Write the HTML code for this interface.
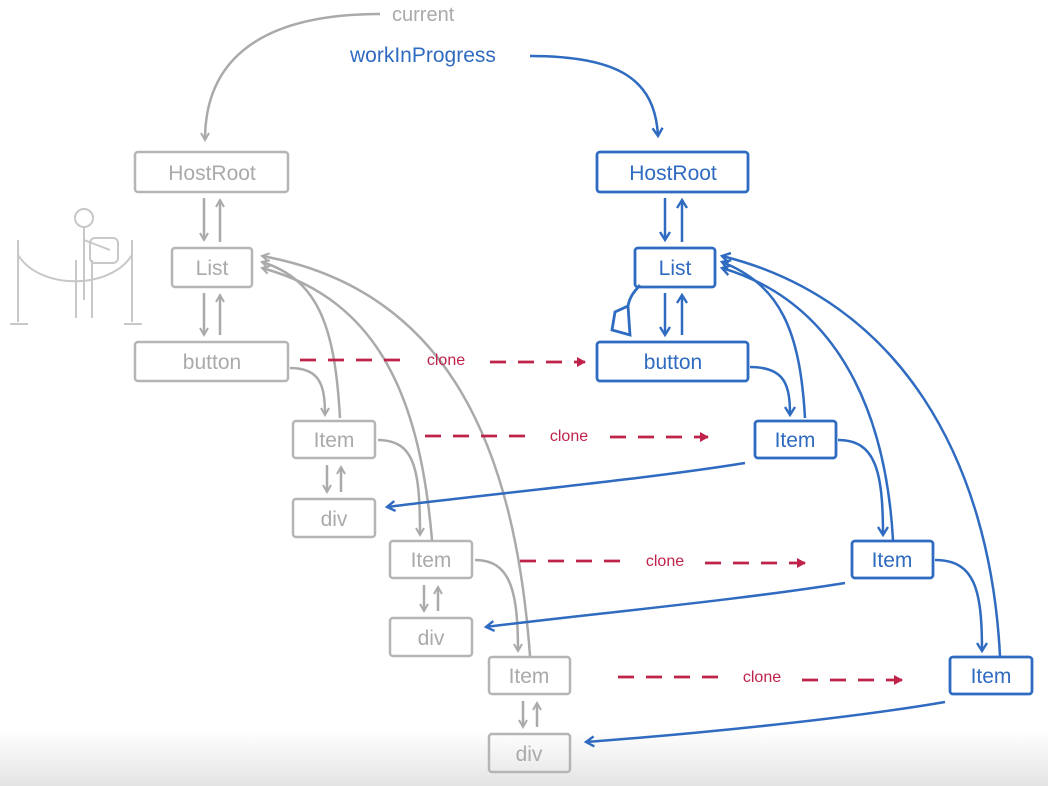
<!DOCTYPE html>
<html><head><meta charset="utf-8"><style>
html,body{margin:0;padding:0;background:#fff;}
svg{display:block}
text{font-family:"Liberation Sans",sans-serif}
</style></head><body>
<svg width="1048" height="786" viewBox="0 0 1048 786" xmlns="http://www.w3.org/2000/svg">
<defs>
<linearGradient id="bg" x1="0" y1="0" x2="0" y2="1"><stop offset="0" stop-color="#fff"/><stop offset="1" stop-color="#e4e4e4"/></linearGradient>
<marker id="ag" markerWidth="10" markerHeight="10" refX="8" refY="5" orient="auto" markerUnits="userSpaceOnUse"><path d="M1,1 L8,5 L1,9" fill="none" stroke="#aaa" stroke-width="2"/></marker>
<marker id="ab" markerWidth="12" markerHeight="12" refX="9" refY="6" orient="auto" markerUnits="userSpaceOnUse"><path d="M1,1 L9,6 L1,11" fill="none" stroke="#2f6bc0" stroke-width="2.4"/></marker>
<marker id="ar" markerWidth="12" markerHeight="12" refX="9" refY="6" orient="auto" markerUnits="userSpaceOnUse"><path d="M1,1 L10,6 L1,11 Z" fill="#c0234a"/></marker>
</defs>
<rect width="1048" height="786" fill="#fff"/>
<rect y="730" width="1048" height="56" fill="url(#bg)"/>

<!-- top labels -->
<text x="392" y="21" font-size="20" fill="#aaa">current</text>
<text x="350" y="62" font-size="21" fill="#2f6bc0">workInProgress</text>
<path d="M380,14 C260,14 205,60 205,140" fill="none" stroke="#aaa" stroke-width="2.5" marker-end="url(#ag)"/>
<path d="M530,56 C620,56 655,80 658,136" fill="none" stroke="#2f6bc0" stroke-width="2.5" marker-end="url(#ab)"/>

<!-- gray nodes -->
<g fill="none" stroke="#b5b5b5" stroke-width="2.5">
<rect x="135" y="152" width="153" height="40" rx="3"/>
<rect x="172" y="248" width="80" height="39" rx="3"/>
<rect x="135" y="342" width="153" height="39" rx="3"/>
<rect x="293" y="421" width="82" height="37" rx="3"/>
<rect x="293" y="499" width="82" height="38" rx="3"/>
<rect x="390" y="541" width="82" height="37" rx="3"/>
<rect x="390" y="618" width="82" height="38" rx="3"/>
<rect x="489" y="657" width="81" height="37" rx="3"/>
<rect x="489" y="734" width="81" height="38" rx="3"/>
</g>
<g font-size="21" fill="#aaa" text-anchor="middle">
<text x="212" y="180">HostRoot</text>
<text x="212" y="275">List</text>
<text x="212" y="369">button</text>
<text x="334" y="447">Item</text>
<text x="334" y="526">div</text>
<text x="431" y="567">Item</text>
<text x="431" y="645">div</text>
<text x="529" y="683">Item</text>
<text x="529" y="761">div</text>
</g>
<g fill="none" stroke="#aaa" stroke-width="2.5">
<path d="M204,198 V240" marker-end="url(#ag)"/><path d="M220,242 V200" marker-end="url(#ag)"/>
<path d="M204,293 V335" marker-end="url(#ag)"/><path d="M220,335 V295" marker-end="url(#ag)"/>
<path d="M327,465 V492" marker-end="url(#ag)"/><path d="M341,492 V467" marker-end="url(#ag)"/>
<path d="M424,585 V611" marker-end="url(#ag)"/><path d="M438,611 V587" marker-end="url(#ag)"/>
<path d="M523,701 V727" marker-end="url(#ag)"/><path d="M537,727 V703" marker-end="url(#ag)"/>
<path d="M290,368 C320,368 325,385 325,415" marker-end="url(#ag)"/>
<path d="M378,440 C415,440 420,470 420,535" marker-end="url(#ag)"/>
<path d="M475,560 C510,560 518,590 518,651" marker-end="url(#ag)"/>
<path d="M340,418 C335,330 320,280 262,262" marker-end="url(#ag)"/>
<path d="M432,540 C420,400 380,300 262,268" marker-end="url(#ag)"/>
<path d="M530,656 C515,450 450,290 262,256" marker-end="url(#ag)"/>
</g>

<!-- stick figure -->
<g fill="none" stroke="#c8c8c8" stroke-width="2">
<circle cx="84" cy="218" r="9"/><path d="M84,227 V300 M76,260 V318 M92,260 V318 M84,240 L110,250"/>
<rect x="90" y="238" width="28" height="25" rx="5"/>
<path d="M18,240 V322 M132,240 V322 M10,324 H28 M124,324 H142 M18,255 C40,290 110,290 132,255"/>
</g>

<!-- blue nodes -->
<g fill="none" stroke="#2f6bc0" stroke-width="2.8">
<rect x="597" y="152" width="151" height="40" rx="3"/>
<rect x="635" y="248" width="80" height="39" rx="3"/>
<rect x="597" y="342" width="151" height="39" rx="3"/>
<rect x="755" y="421" width="81" height="37" rx="3"/>
<rect x="852" y="541" width="81" height="37" rx="3"/>
<rect x="950" y="657" width="82" height="37" rx="3"/>
<path d="M612,330 L615,312 L628,306 L630,335 Z M628,306 C630,295 636,290 640,285"/>
</g>
<g font-size="21" fill="#2f6bc0" text-anchor="middle">
<text x="673" y="180">HostRoot</text>
<text x="675" y="275">List</text>
<text x="673" y="369">button</text>
<text x="795" y="447">Item</text>
<text x="892" y="567">Item</text>
<text x="991" y="683">Item</text>
</g>
<g fill="none" stroke="#2f6bc0" stroke-width="2.5">
<path d="M665,198 V240" marker-end="url(#ab)"/><path d="M682,242 V200" marker-end="url(#ab)"/>
<path d="M665,293 V335" marker-end="url(#ab)"/><path d="M682,335 V295" marker-end="url(#ab)"/>
<path d="M750,367 C785,367 790,385 790,415" marker-end="url(#ab)"/>
<path d="M838,440 C875,440 883,470 883,535" marker-end="url(#ab)"/>
<path d="M935,560 C975,560 982,590 982,651" marker-end="url(#ab)"/>
<path d="M805,418 C800,330 780,285 722,262" marker-end="url(#ab)"/>
<path d="M893,540 C885,400 830,300 722,268" marker-end="url(#ab)"/>
<path d="M1000,656 C990,460 900,300 722,256" marker-end="url(#ab)"/>
<path d="M745,463 C640,480 480,495 387,507" marker-end="url(#ab)"/>
<path d="M845,583 C740,600 580,615 486,627" marker-end="url(#ab)"/>
<path d="M945,702 C840,720 680,735 586,742" marker-end="url(#ab)"/>
</g>

<!-- clone arrows -->
<g fill="none" stroke="#c0234a" stroke-width="2.8" stroke-dasharray="16,12">
<path d="M300,360 H410 M490,362 H585" marker-end="url(#ar)"/>
<path d="M425,436 H530 M610,437 H708" marker-end="url(#ar)"/>
<path d="M520,561 H625 M705,563 H805" marker-end="url(#ar)"/>
<path d="M618,677 H720 M802,680 H902" marker-end="url(#ar)"/>
</g>
<g font-size="16" fill="#c0234a" text-anchor="middle">
<text x="446" y="365">clone</text>
<text x="569" y="441">clone</text>
<text x="665" y="566">clone</text>
<text x="762" y="682">clone</text>
</g>
</svg>
</body></html>
